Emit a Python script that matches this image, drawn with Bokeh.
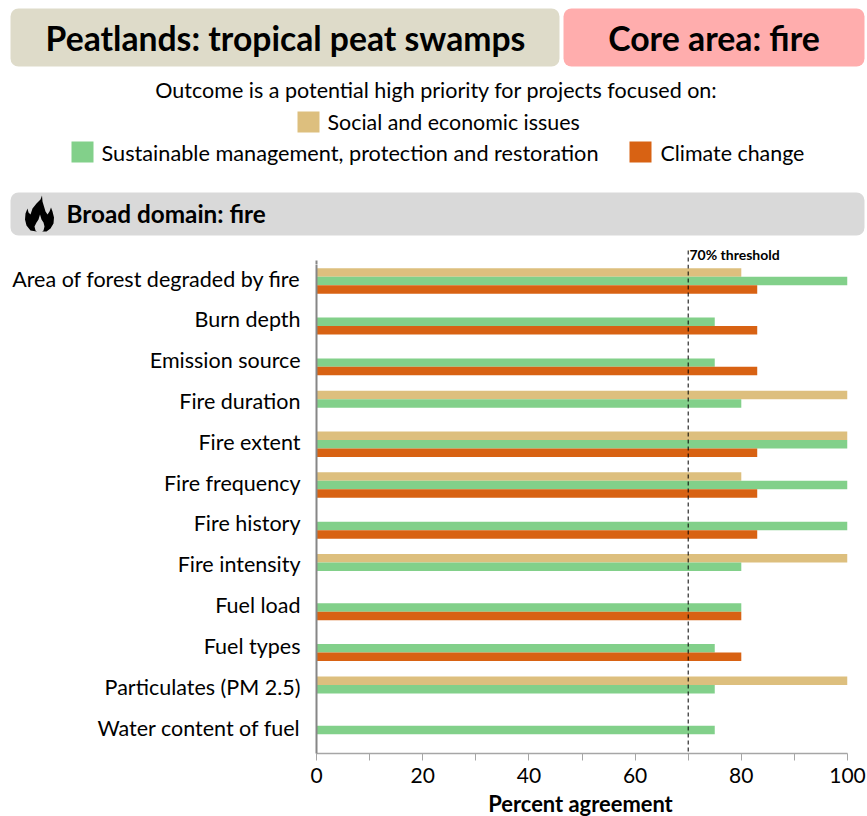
from bokeh.plotting import figure
from bokeh.layouts import column
from bokeh.models import Range1d, FixedTicker, Span, BoxAnnotation, LinearAxis
from bokeh.core.properties import value
from bokeh.embed import file_html
from bokeh.resources import INLINE

categories = ["Area of forest degraded by fire", "Burn depth", "Emission source", "Fire duration",
              "Fire extent", "Fire frequency", "Fire history", "Fire intensity", "Fuel load",
              "Fuel types", "Particulates (PM 2.5)", "Water content of fuel"]
social = [80, None, None, 100, 100, 80, None, 100, None, None, 100, None]
sustainable = [100, 75, 75, 80, 100, 100, 100, 80, 80, 75, 75, 75]
climate = [83, 83, 83, None, 83, 83, 83, None, 80, 80, None, None]
x_ticks = [0, 20, 40, 60, 80, 100]
x_minor = [10, 30, 50, 70, 90]
threshold = 70
TAN, GREEN, ORANGE = "#DDBF7E", "#82D08A", "#D86213"
FONT = "Lato"

W = 867
# ---------- header: coordinates are page pixels ----------
h = figure(width=W, height=264, x_range=Range1d(0, 867), y_range=Range1d(264, 0),
           output_backend="svg", toolbar_location=None, min_border=0, outline_line_color=None,
           frame_align=False)
h.axis.visible = False
h.grid.visible = False
for l, r, t, b, c in [(10, 559, 8, 66, "#DEDBC9"), (563, 864, 8, 66, "#FFADAD"), (10, 864, 192, 235, "#D9D9D9")]:
    h.add_layout(BoxAnnotation(left=l, right=r, top=t, bottom=b, fill_color=c, fill_alpha=1,
                               line_color=None, border_radius=8, level="underlay"))

def txt(fig, x, y, s, size, bold=False, align="center"):
    fig.text([x], [y], text=[s], text_font=value(FONT), text_font_size=f"{size}px",
             text_font_style="bold" if bold else "normal", text_align=align,
             text_baseline="middle", text_color="#000000")

txt(h, 285, 37, "Peatlands: tropical peat swamps", 33.7, True)
txt(h, 713.5, 37, "Core area: fire", 33.8, True)
txt(h, 436, 89, "Outcome is a potential high priority for projects focused on:", 21.5)
txt(h, 327, 121, "Social and economic issues", 21.4, align="left")
txt(h, 101, 152, "Sustainable management, protection and restoration", 21.7, align="left")
txt(h, 660, 152, "Climate change", 21.4, align="left")
txt(h, 66, 213, "Broad domain: fire", 24.3, True, align="left")
txt(h, 689, 254, "70% threshold", 14, True, align="left")
for l, r, t, b, c in [(297, 319, 111, 132, TAN), (71, 93, 141, 162, GREEN), (629, 651, 141, 162, ORANGE)]:
    h.quad(left=[l], right=[r], top=[t], bottom=[b], fill_color=c, line_color=None)
# flame icon
h.patch([41.5, 42, 43.5, 45, 47, 49, 50.5, 52, 53.5, 53, 50, 46, 36, 30, 26, 24.5, 25, 27, 28, 30, 32, 36, 40],
        [195, 201, 206, 211, 214, 211, 207, 211, 217, 223, 228, 231, 231, 230, 225, 219, 213, 208, 212, 214, 208, 203, 199],
        fill_color="#000000", line_color=None)
h.patch([39.5, 41, 43, 44, 43, 41, 37, 35, 34, 36, 38],
        [214, 219, 222, 226, 230, 232, 232, 230, 226, 222, 219],
        fill_color="#D9D9D9", line_color=None)
# tops of the threshold line and of the y axis, above the plot frame
h.line([316 + 531 * threshold / 100] * 2, [250, 264], line_color="#000000", line_width=1, line_dash="4 3")
h.line([316, 316], [260, 264], line_color="#868686", line_width=2)

# ---------- chart ----------
ys = list(range(len(categories)))
Y_TOP, Y_BOTTOM = -0.404, 11.576
LIFT = 0.06   # category labels sit slightly above the centre of their bar group
p = figure(width=W, height=526, x_range=Range1d(0, 100), y_range=Range1d(Y_BOTTOM, Y_TOP),
           y_axis_location=None,
           output_backend="svg", toolbar_location=None, outline_line_color=None, frame_align=False,
           min_border_left=316, min_border_right=20, min_border_top=0, min_border_bottom=37)
p.extra_y_ranges = {"labels": Range1d(Y_BOTTOM + LIFT, Y_TOP + LIFT)}
p.grid.visible = False
BH = 0.208
for vals, off, col in [(social, -BH, TAN), (sustainable, 0, GREEN), (climate, BH, ORANGE)]:
    yy = [i + off for i, v in zip(ys, vals) if v is not None]
    vv = [v for v in vals if v is not None]
    p.hbar(y=yy, right=vv, left=0, height=BH, fill_color=col, line_color=None)

p.add_layout(Span(location=threshold, dimension="height", line_color="#000000", line_width=1, line_dash="4 3"))

xa = p.xaxis[0]
xa.ticker = FixedTicker(ticks=x_ticks, minor_ticks=x_minor)
xa.major_label_text_font = FONT
xa.major_label_text_font_size = "21px"
xa.major_label_text_color = "#000000"
xa.major_label_standoff = 7
xa.axis_line_color = "#A6A6A6"
xa.axis_line_width = 1.5
xa.major_tick_line_color = "#A6A6A6"
xa.minor_tick_line_color = "#A6A6A6"
xa.major_tick_in = 0
xa.major_tick_out = 7
xa.minor_tick_in = 0
xa.minor_tick_out = 7

ya = LinearAxis(y_range_name="labels")
ya.ticker = FixedTicker(ticks=ys, minor_ticks=[])
ya.major_label_overrides = {i: c for i, c in zip(ys, categories)}
ya.axis_line_color = "#868686"
ya.axis_line_width = 2
ya.major_tick_line_color = None
ya.minor_tick_line_color = None
ya.major_tick_in = 0
ya.major_tick_out = 0
ya.major_label_standoff = 16
ya.major_label_text_font = FONT
ya.major_label_text_font_size = "21.5px"
ya.major_label_text_color = "#000000"
p.add_layout(ya, "left")

# ---------- x-axis title strip ----------
f = figure(width=W, height=26, x_range=Range1d(0, 867), y_range=Range1d(816, 790),
           output_backend="svg", toolbar_location=None, min_border=0, outline_line_color=None,
           frame_align=False)
f.axis.visible = False
f.grid.visible = False
txt(f, 580, 803, "Percent agreement", 21.9, True)

layout = column(h, p, f, spacing=0)
open("out.html", "w").write(file_html(layout, INLINE))
